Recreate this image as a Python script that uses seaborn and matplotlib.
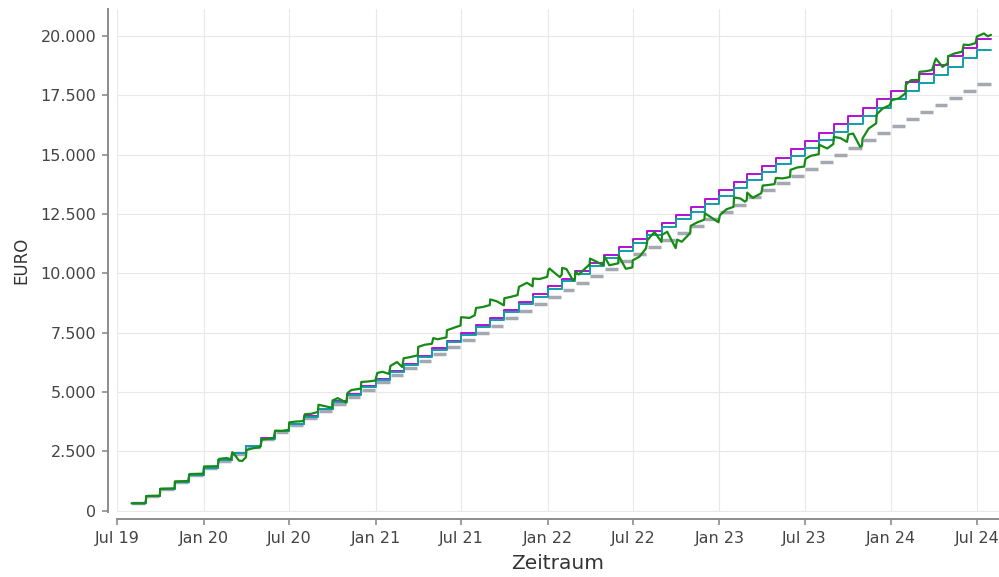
import pandas as pd
import matplotlib
matplotlib.use('Agg')
import matplotlib.pyplot as plt
import matplotlib.dates as mdates
from matplotlib.ticker import MultipleLocator, FuncFormatter
import seaborn as sns

# monthly deposits (Aug 2019 - Jul 2024) and the two savings curves
months = pd.date_range('2019-08-01', '2024-07-01', freq='MS')
end_date = pd.Timestamp('2024-08-01')

einzahlung = [300, 600, 900, 1200, 1500, 1800, 2100, 2400, 2700, 3000,
              3300, 3600, 3900, 4200, 4500, 4800, 5100, 5400, 5700, 6000,
              6300, 6600, 6900, 7200, 7500, 7800, 8100, 8400, 8700, 9000,
              9300, 9600, 9900, 10200, 10500, 10800, 11100, 11400, 11700, 12000,
              12300, 12600, 12900, 13200, 13500, 13800, 14100, 14400, 14700, 15000,
              15300, 15600, 15900, 16200, 16500, 16800, 17100, 17400, 17700, 18000]

sparplan = [300, 601, 903, 1206, 1510, 1815, 2121, 2428, 2736, 3045,
            3355, 3666, 3978, 4291, 4605, 4921, 5237, 5555, 5873, 6192,
            6513, 6834, 7157, 7480, 7805, 8130, 8457, 8785, 9115, 9445,
            9775, 10108, 10441, 10776, 11111, 11448, 11786, 12125, 12465, 12806,
            13148, 13492, 13836, 14182, 14528, 14876, 15226, 15576, 15927, 16280,
            16634, 16988, 17345, 17702, 18060, 18420, 18781, 19143, 19506, 19870]

sparplan_netto = [300, 601, 902, 1205, 1508, 1811, 2116, 2421, 2727, 3034,
                  3341, 3650, 3959, 4268, 4579, 4891, 5203, 5516, 5830, 6144,
                  6460, 6776, 7093, 7410, 7729, 8048, 8368, 8689, 9011, 9334,
                  9656, 9981, 10306, 10632, 10958, 11286, 11615, 11944, 12274, 12605,
                  12936, 13269, 13602, 13937, 14271, 14607, 14945, 15282, 15620, 15960,
                  16301, 16641, 16984, 17326, 17670, 18015, 18361, 18707, 19055, 19403]

# depot value
depot_dates = [
    '2019-08-01', '2019-08-30', '2019-09-02', '2019-09-30', '2019-10-01', '2019-10-31',
    '2019-11-01', '2019-11-29', '2019-12-02', '2019-12-31', '2020-01-02', '2020-01-31',
    '2020-02-03', '2020-02-19', '2020-02-28', '2020-03-02', '2020-03-09', '2020-03-16',
    '2020-03-23', '2020-03-31', '2020-04-01', '2020-04-15', '2020-04-30', '2020-05-04',
    '2020-05-15', '2020-05-29', '2020-06-01', '2020-06-15', '2020-06-30', '2020-07-01',
    '2020-07-15', '2020-07-31', '2020-08-03', '2020-08-17', '2020-08-31', '2020-09-01',
    '2020-09-15', '2020-09-30', '2020-10-01', '2020-10-12', '2020-10-30', '2020-11-02',
    '2020-11-10', '2020-11-30', '2020-12-01', '2020-12-15', '2020-12-31', '2021-01-04',
    '2021-01-15', '2021-01-29', '2021-02-01', '2021-02-15', '2021-02-26', '2021-03-01',
    '2021-03-15', '2021-03-31', '2021-04-01', '2021-04-15', '2021-04-30', '2021-05-03',
    '2021-05-12', '2021-05-31', '2021-06-01', '2021-06-15', '2021-06-30', '2021-07-01',
    '2021-07-19', '2021-07-30', '2021-08-02', '2021-08-16', '2021-08-31', '2021-09-01',
    '2021-09-15', '2021-09-30', '2021-10-01', '2021-10-15', '2021-10-29', '2021-11-01',
    '2021-11-18', '2021-11-30', '2021-12-01', '2021-12-15', '2021-12-31', '2022-01-03',
    '2022-01-05', '2022-01-20', '2022-01-27', '2022-01-31', '2022-02-01', '2022-02-10',
    '2022-02-24', '2022-02-28', '2022-03-01', '2022-03-08', '2022-03-29', '2022-03-31',
    '2022-04-01', '2022-04-14', '2022-04-29', '2022-05-02', '2022-05-12', '2022-05-31',
    '2022-06-01', '2022-06-16', '2022-06-30', '2022-07-01', '2022-07-15', '2022-07-29',
    '2022-08-01', '2022-08-16', '2022-08-31', '2022-09-01', '2022-09-12', '2022-09-30',
    '2022-10-03', '2022-10-13', '2022-10-31', '2022-11-01', '2022-11-15', '2022-11-30',
    '2022-12-01', '2022-12-15', '2022-12-30', '2023-01-02', '2023-01-16', '2023-01-31',
    '2023-02-01', '2023-02-15', '2023-02-24', '2023-02-28', '2023-03-01', '2023-03-13',
    '2023-03-31', '2023-04-03', '2023-04-14', '2023-04-28', '2023-05-01', '2023-05-15',
    '2023-05-31', '2023-06-01', '2023-06-15', '2023-06-30', '2023-07-03', '2023-07-14',
    '2023-07-31', '2023-08-01', '2023-08-18', '2023-08-31', '2023-09-01', '2023-09-15',
    '2023-09-29', '2023-10-02', '2023-10-12', '2023-10-27', '2023-10-31', '2023-11-01',
    '2023-11-14', '2023-11-30', '2023-12-01', '2023-12-14', '2023-12-29', '2024-01-02',
    '2024-01-17', '2024-01-31', '2024-02-01', '2024-02-12', '2024-02-29', '2024-03-01',
    '2024-03-15', '2024-03-28', '2024-04-02', '2024-04-05', '2024-04-19', '2024-04-30',
    '2024-05-01', '2024-05-15', '2024-05-31', '2024-06-03', '2024-06-14', '2024-06-28',
    '2024-07-01', '2024-07-16', '2024-07-24', '2024-07-31']
depot_values = [
    300, 305, 615, 625, 920, 935,
    1230, 1245, 1540, 1555, 1860, 1870,
    2180, 2215, 2160, 2460, 2300, 2110,
    2090, 2250, 2550, 2630, 2670, 3000,
    3020, 3055, 3370, 3360, 3400, 3720,
    3750, 3770, 4060, 4080, 4160, 4460,
    4400, 4330, 4640, 4740, 4550, 4960,
    5080, 5140, 5420, 5440, 5480, 5800,
    5850, 5760, 6100, 6260, 6050, 6420,
    6470, 6540, 6900, 6990, 7030, 7270,
    7220, 7300, 7600, 7700, 7800, 8150,
    8120, 8230, 8540, 8580, 8660, 8900,
    8820, 8650, 8950, 9010, 9080, 9430,
    9600, 9450, 9780, 9760, 9850, 10160,
    10200, 9950, 9840, 9950, 10230, 10180,
    9700, 9780, 10070, 9950, 10340, 10330,
    10620, 10500, 10340, 10700, 10340, 10420,
    10740, 10190, 10250, 10550, 10700, 11050,
    11400, 11740, 11320, 11620, 11750, 11060,
    11420, 11330, 11700, 12000, 12150, 12260,
    12530, 12350, 12150, 12450, 12700, 12800,
    13200, 13150, 13020, 13080, 13400, 13180,
    13380, 13700, 13720, 13760, 14020, 14000,
    14060, 14360, 14460, 14500, 14830, 14950,
    15020, 15420, 15260, 15450, 15750, 15700,
    15540, 15850, 15890, 15330, 15380, 15680,
    16100, 16320, 16700, 16950, 17090, 17300,
    17370, 17580, 17950, 18140, 18150, 18490,
    18520, 18570, 18900, 19050, 18700, 18850,
    19150, 19270, 19340, 19640, 19620, 19700,
    19980, 20110, 19990, 20050]

# tables for seaborn
month_ends = list(months[1:]) + [end_date]
df_gray = pd.DataFrame({
    'date': list(months + pd.Timedelta(days=1)) + [e - pd.Timedelta(days=2) for e in month_ends],
    'value': einzahlung + einzahlung,
    'month': list(range(len(months))) * 2,
})
df_steps = pd.DataFrame({
    'date': list(months) + [end_date],
    'sparplan': sparplan + [sparplan[-1]],
    'netto': sparplan_netto + [sparplan_netto[-1]],
})
df_depot = pd.DataFrame({'date': pd.to_datetime(depot_dates), 'value': depot_values})

sns.set_theme(style='white')
plt.rcParams['font.family'] = ['DejaVu Sans']

fig = plt.figure(figsize=(9.99, 5.77), dpi=100)
ax = fig.add_axes([117 / 999, 65 / 577, 882 / 999, 503 / 577])

sns.lineplot(ax=ax, data=df_gray, x='date', y='value', units='month', estimator=None,
             color='#a4a8b0', linewidth=2.5, solid_capstyle='butt')
sns.lineplot(ax=ax, data=df_steps, x='date', y='sparplan', color='#b30fd6',
             linewidth=1.4, drawstyle='steps-post')
sns.lineplot(ax=ax, data=df_steps, x='date', y='netto', color='#0f9ea8',
             linewidth=1.4, drawstyle='steps-post')
sns.lineplot(ax=ax, data=df_depot, x='date', y='value', color='#158a15', linewidth=1.6)

ax.set_xlim(pd.Timestamp('2019-07-01'), pd.Timestamp('2024-08-17'))
ax.set_ylim(-60, 21140)

ax.xaxis.set_major_locator(mdates.MonthLocator(bymonth=[1, 7]))
ax.xaxis.set_major_formatter(mdates.DateFormatter('%b %y'))
ax.yaxis.set_major_locator(MultipleLocator(2500))
ax.yaxis.set_major_formatter(FuncFormatter(lambda v, p: f'{v:,.0f}'.replace(',', '.')))

ax.grid(True, color='#e8e8e8', linewidth=0.8)
ax.set_axisbelow(True)
sns.despine(ax=ax, offset={'left': 6.5, 'bottom': 5})
for side in ['left', 'bottom']:
    ax.spines[side].set_color('#8c8c8c')
    ax.spines[side].set_linewidth(1.4)
ax.tick_params(axis='both', bottom=True, left=True, colors='#8c8c8c', length=4.5,
               width=1.2, labelsize=11.5, labelcolor='#444444', pad=4)

ax.set_xlabel('Zeitraum', fontsize=14.5, color='#333333', labelpad=6)
ax.set_ylabel('EURO', fontsize=12, color='#333333', labelpad=7)

fig.savefig('out.png', dpi=100)
